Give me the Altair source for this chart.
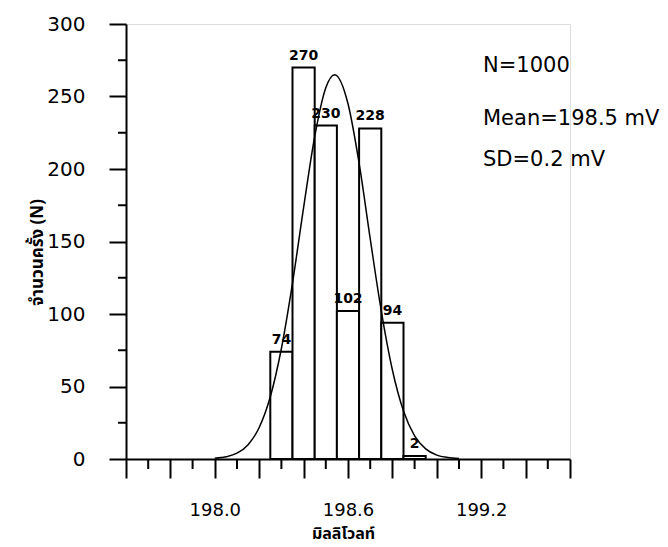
import altair as alt
import pandas as pd

# ---- data ----
bin_start = [198.25, 198.35, 198.45, 198.55, 198.65, 198.75, 198.85]
bin_end = [198.35, 198.45, 198.55, 198.65, 198.75, 198.85, 198.95]
counts = [74, 270, 230, 102, 228, 94, 2]

curve_x = [198.00, 198.05, 198.10, 198.15, 198.20, 198.25, 198.30, 198.35, 198.40,
           198.45, 198.50, 198.54, 198.60, 198.65, 198.70, 198.75, 198.80, 198.85,
           198.90, 198.95, 199.00, 199.05, 199.10]
curve_y = [0.5, 1.5, 4.0, 9.9, 21.7, 42.9, 76.2, 121.3, 173.4,
           222.3, 256.0, 265.0, 245.0, 204.0, 152.0, 102.0, 61.4, 33.1,
           16.0, 7.0, 2.7, 1.0, 0.3]

x_major = [197.6, 197.8, 198.0, 198.2, 198.4, 198.6, 198.8, 199.0, 199.2, 199.4, 199.6]
x_minor = [197.7, 197.9, 198.1, 198.3, 198.5, 198.7, 198.9, 199.1, 199.3, 199.5]
x_labels = [198.0, 198.6, 199.2]
y_major = [0, 50, 100, 150, 200, 250, 300]
y_minor = [25, 75, 125, 175, 225, 275]

stats_text = ["N=1000", "Mean=198.5 mV", "SD=0.2 mV"]

x_title = "มิลลิโวลท์"
y_title = "จำนวนครั้ง (N)"

bars_df = pd.DataFrame({"start": bin_start, "end": bin_end, "count": counts})
bars_df["mid"] = (bars_df["start"] + bars_df["end"]) / 2
curve_df = pd.DataFrame({"x": curve_x, "y": curve_y})

NUM_FONT = "DejaVu Sans"
THAI_FONT = "Noto Sans Thai, Loma, Garuda, Noto Sans, DejaVu Sans, sans-serif"

label_test = " || ".join(f"abs(datum.value - {v}) < 0.001" for v in x_labels)
x_label_expr = f"({label_test}) ? format(datum.value, '.1f') : ''"

x_scale = alt.Scale(domain=[197.6, 199.6], nice=False, zero=False)
y_scale = alt.Scale(domain=[0, 300], nice=False)

x_axis = alt.Axis(
    values=x_major, labelExpr=x_label_expr, grid=False,
    tickSize=19, tickWidth=2, tickColor="black", domainColor="black", domainWidth=2,
    labelFont=NUM_FONT, labelFontSize=18, labelColor="black", labelPadding=23,
    labelFlush=False, labelOverlap=False,
    title=x_title, titleFont=THAI_FONT, titleFontSize=16, titleFontWeight="bold",
    titleColor="black", titleX=217, titleY=79, titleAlign="center", titleBaseline="alphabetic",
)
y_axis = alt.Axis(
    values=y_major, grid=False,
    tickSize=17, tickWidth=2, tickColor="black", domainColor="black", domainWidth=2,
    labelFont=NUM_FONT, labelFontSize=20, labelColor="black", labelPadding=24,
    labelFlush=False, labelOverlap=False,
    title=y_title, titleFont=THAI_FONT, titleFontSize=17, titleFontWeight="bold",
    titleColor="black", titleX=-89, titleY=228, titleAngle=-90, titleAlign="center",
    titleBaseline="middle",
)

bars = alt.Chart(bars_df).mark_rect(fill="white", stroke="black", strokeWidth=2).encode(
    x=alt.X("start:Q", scale=x_scale, axis=x_axis),
    x2="end:Q",
    y=alt.Y("count:Q", scale=y_scale, axis=y_axis),
    y2=alt.datum(0),
)

curve = alt.Chart(curve_df).mark_line(color="black", strokeWidth=1.5, interpolate="monotone").encode(
    x=alt.X("x:Q", scale=x_scale),
    y=alt.Y("y:Q", scale=y_scale),
)

bar_labels = alt.Chart(bars_df).mark_text(
    font=NUM_FONT, fontSize=14, fontWeight="bold", color="black", dy=-8, baseline="alphabetic"
).encode(
    x=alt.X("mid:Q", scale=x_scale),
    y=alt.Y("count:Q", scale=y_scale),
    text="count:Q",
)

x_minor_ticks = alt.Chart(pd.DataFrame({"v": x_minor})).mark_rule(color="black", strokeWidth=2).encode(
    x=alt.X("v:Q", scale=x_scale),
    y=alt.value(435),
    y2=alt.value(445),
)
y_minor_ticks = alt.Chart(pd.DataFrame({"v": y_minor})).mark_rule(color="black", strokeWidth=2).encode(
    y=alt.Y("v:Q", scale=y_scale),
    x=alt.value(0),
    x2=alt.value(-8),
)

stat_y = [42, 95, 136]
stats_layers = [
    alt.Chart(pd.DataFrame({"t": [s]})).mark_text(
        font=NUM_FONT, fontSize=21, color="black", align="left", baseline="middle",
        x=357, y=yy,
    ).encode(text="t:N")
    for s, yy in zip(stats_text, stat_y)
]

chart = alt.layer(bars, curve, bar_labels, x_minor_ticks, y_minor_ticks, *stats_layers).properties(
    width=444, height=435,
    autosize=alt.AutoSizeParams(type="none"),
    padding={"left": 118, "top": 16, "right": 90, "bottom": 88},
).configure_view(stroke=None).configure(background="white")

chart.save("out.html", embed_options={"renderer": "svg", "actions": False})
